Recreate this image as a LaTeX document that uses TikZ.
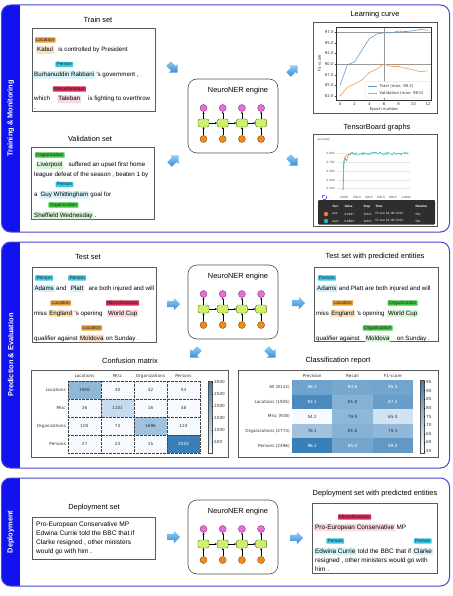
\documentclass[tikz,border=0pt]{standalone}
\usepackage{fontspec}
\setmainfont{Liberation Sans}
\newfontfamily\mplfont{DejaVu Sans}
\usetikzlibrary{positioning,shapes.arrows,arrows.meta}

\definecolor{bandblue}{HTML}{1212F0}
\definecolor{panelline}{HTML}{4646D2}
\definecolor{arrowtop}{HTML}{92CDF3}
\definecolor{arrowbot}{HTML}{3A8AD8}
\definecolor{hidpink}{HTML}{EE6ADC}
\definecolor{lstmgreen}{HTML}{CDF26A}
\definecolor{inporange}{HTML}{F28A1A}
\definecolor{locc}{HTML}{EC9A35}
\definecolor{perc}{HTML}{3EC6E2}
\definecolor{miscc}{HTML}{D42D55}
\definecolor{orgc}{HTML}{3FC63F}
\definecolor{hmlow}{HTML}{F7FBFF}
\definecolor{hmhigh}{HTML}{3A7FB8}
\definecolor{trainc}{HTML}{5E9BD0}
\definecolor{valc}{HTML}{F59A45}
\definecolor{tbteal}{HTML}{2FB3C2}
\definecolor{tborange}{HTML}{EE7A30}

\newcommand\fstitle{\fontsize{7.4}{8}\selectfont}
\newcommand\fsbody{\fontsize{6.2}{7}\selectfont}
\newcommand\fsdep{\fontsize{6.6}{9.2}\selectfont}
\newcommand\fsdepp{\fontsize{6.4}{7}\selectfont}
\newcommand\fstag{\fontsize{4.8}{5}\selectfont}
\newcommand\fsplot{\mplfont\fontsize{4.2}{5}\selectfont}
\newcommand\fstick{\mplfont\fontsize{3.9}{4.5}\selectfont}
\newcommand\fstb{\fontsize{3.1}{3.5}\selectfont}
\newcommand\fsband{\bfseries\fontsize{7.4}{8}\selectfont}

\begin{document}
\begin{tikzpicture}[x=1pt,y=-1pt]
	\tikzstyle{panel}=[draw=panelline, line width=1pt, rounded corners=9pt]
	\tikzstyle{band}=[fill=bandblue]
	\tikzstyle{bandlabel}=[text=white, font=\fsband, rotate=90]
	\tikzstyle{title}=[font=\fstitle, inner sep=0pt]
	\tikzstyle{box}=[draw=black!65, line width=0.6pt, fill=white]
	\tikzstyle{engine}=[draw=black!70, line width=0.6pt, rounded corners=9pt]
	\tikzstyle{bigarrow}=[single arrow, single arrow head extend=3pt, minimum height=13pt, inner xsep=0pt, inner ysep=3pt, top color=arrowtop, bottom color=arrowbot]
	\tikzstyle{hid}=[circle, fill=hidpink, draw=hidpink!55!black, line width=0.4pt, minimum size=7pt, inner sep=0pt]
	\tikzstyle{inp}=[circle, fill=inporange, draw=inporange!55!black, line width=0.4pt, minimum size=7pt, inner sep=0pt]
	\tikzstyle{lstm}=[rectangle, rounded corners=2pt, fill=lstmgreen, draw=lstmgreen!45!black, line width=0.4pt, minimum width=11pt, minimum height=8pt, inner sep=0pt]
	\tikzstyle{link}=[draw=black, line width=0.4pt, -{Stealth[length=2pt,width=2pt]}]
	\tikzstyle{wd}=[inner sep=0pt, anchor=base west, font=\fsbody]
	\tikzstyle{ent}=[wd, inner xsep=1pt, inner ysep=0.8pt, text height=4.7pt, text depth=1.3pt, rounded corners=1pt]
	\tikzstyle{tag}=[font=\fstag, inner xsep=1.3pt, inner ysep=0.5pt, text height=3.4pt, text depth=0.9pt, rounded corners=0.6pt, text=black!85]
	\tikzstyle{plottxt}=[font=\fsplot, inner sep=0.5pt, text=black!80]
	\tikzstyle{ticktxt}=[font=\fstick, inner sep=0.5pt, text=black!80]
	\tikzstyle{tbtxt}=[font=\fstb, inner sep=0.3pt, text=black!70]
	\tikzstyle{tbrow}=[font=\fstb, inner sep=0.3pt, text=white, anchor=west]
	\tikzstyle{cmcell}=[minimum width=33pt, minimum height=18pt, inner sep=0pt, font=\fsplot]
	\tikzstyle{crcell}=[minimum width=40.3pt, minimum height=14.6pt, inner sep=0pt, font=\fsplot]
	\tikzstyle{cmgrid}=[black!75, line width=0.35pt, densely dotted]
	\tikzstyle{gridl}=[black!40, line width=0.5pt]

	\useasboundingbox (0,0) rectangle (452,596);

	% three stages
	\foreach \ya/\yb/\lab [count=\ii] in {5/232/Training \& Monitoring, 242/468/Prediction \& Evaluation, 478/586/Deployment} {
		\begin{scope}
			\clip[rounded corners=9pt] (1.5,\ya) rectangle (449.5,\yb);
			\fill[band] (1.5,\ya) rectangle (20,\yb);
		\end{scope}
		\draw[panel] (1.5,\ya) rectangle (449.5,\yb);
		\node[bandlabel] (stage\ii) at (10.8,{(\ya+\yb)/2}) {\lab};
	}

	% NeuroNER engines
	\foreach \ey/\en in {79/eA, 265/eB, 500/eC} {
		\draw[engine] (188,\ey) rectangle (278,\ey+74);
		\node[title] (\en-t) at (238,\ey+12) {NeuroNER engine};
		\foreach \ii in {0,...,3} {
			\node[hid] (\en-h\ii) at (203.5+19.2*\ii,\ey+29) {};
			\node[lstm] (\en-l\ii) at (203.5+19.2*\ii,\ey+44) {};
			\node[inp] (\en-x\ii) at (203.5+19.2*\ii,\ey+60) {};
			\path[link] (\en-x\ii) -- (\en-l\ii);
			\path[link] (\en-l\ii) -- (\en-h\ii);
		}
		\foreach \ii/\jj in {0/1,1/2,2/3} \path[link] (\en-l\ii) -- (\en-l\jj);
	}

	% block arrows
	\node[bigarrow, rotate=-45] (arA1) at (172,67) {};
	\node[bigarrow, rotate=45] (arA2) at (173,161) {};
	\node[bigarrow, rotate=45] (arA3) at (292,71) {};
	\node[bigarrow, rotate=-45] (arA4) at (292,160) {};
	\node[bigarrow] (arB1) at (172,304) {};
	\node[bigarrow] (arB2) at (297,303) {};
	\node[bigarrow, rotate=-135] (arB3) at (196,352) {};
	\node[bigarrow, rotate=-45] (arB4) at (270,352) {};
	\node[bigarrow] (arC1) at (172,537) {};
	\node[bigarrow] (arC2) at (295,538) {};

	% train set
	\node[title] (ttrain) at (98,20) {Train set};
	\draw[box] (32,28) rectangle (155,111);
	\node[ent, fill=locc!28] (kab) at (36,52) {Kabul};
	\node[wd, base right=3.8pt of kab] (kab2) {is controlled by President};
	\node[tag, fill=locc, above=3.4pt of kab] (kabt) {Location};
	\node[ent, fill=perc!22] (bur) at (33,76.5) {Burhanuddin Rabbani};
	\node[wd, base right=0.8pt of bur] (bur2) {'s government ,};
	\node[tag, fill=perc, above=3.4pt of bur] (burt) {Person};
	\node[wd] (whi) at (34,101) {which};
	\node[ent, fill=miscc!18, base right=7pt of whi] (tal) {Taleban};
	\node[wd, base right=6.6pt of tal] (tal2) {is fighting to overthrow};
	\node[tag, fill=miscc, above=3.4pt of tal] (talt) {Miscellaneous};
	\node[wd] (dotA) at (34,109.5) {.};

	% validation set
	\node[title] (tval) at (90,139) {Validation set};
	\draw[box] (31,147) rectangle (154,219.5);
	\node[ent, fill=orgc!20] (liv) at (36,167) {Liverpool};
	\node[wd, base right=4.8pt of liv] (liv2) {suffered an upset first home};
	\node[tag, fill=orgc, above=3.4pt of liv] (livt) {Organization};
	\node[wd] (lea) at (34,176) {league defeat of the season , beaten 1 by};
	\node[wd] (aa) at (34,196.5) {a};
	\node[ent, fill=perc!22, base right=1.6pt of aa] (guy) {Guy Whittingham};
	\node[wd, base right=0.8pt of guy] (guy2) {goal for};
	\node[tag, fill=perc, above=3.4pt of guy] (guyt) {Person};
	\node[ent, fill=orgc!20] (she) at (33,217) {Sheffield Wednesday};
	\node[wd, base right=1pt of she] (she2) {.};
	\node[tag, fill=orgc, above=3.4pt of she] (shet) {Organization};

	% learning curve
	\node[title] (tlc) at (375,15) {Learning curve};
	\draw[box] (313,22) rectangle (437,113);
	\draw[gridl] (336,32) -- (431,32);
	\draw[gridl] (336,64) -- (431,64);
	\draw[gridl] (384,27) -- (384,100);
	\begin{scope}[shift={(340,448)}, xscale=7.333, yscale=-4.267]
		\draw[trainc, line width=0.6pt] plot coordinates {(0,85.0) (1,89.8) (2,90.5) (3,93.3) (4,95.9) (5,97.0) (6,97.3) (7,97.3) (8,97.7) (9,97.6) (10,97.8) (11,98.1) (12,97.9)};
		\draw[valc, line width=0.6pt] plot coordinates {(0,82.5) (1,84.5) (2,85.3) (3,86.3) (4,88.0) (5,88.8) (6,90.0) (7,89.4) (8,89.4) (9,89.0) (10,88.6) (11,88.2) (12,88.4)};
	\end{scope}
	\draw[black!80, line width=0.4pt] (336,27) rectangle (431,100);
	\foreach \val in {82.5,85.0,87.5,90.0,92.5,95.0,97.5} {
		\draw[black!80, line width=0.3pt] (334.5,{96-(\val-82.5)*4.267}) -- (336,{96-(\val-82.5)*4.267});
		\node[ticktxt, anchor=east] (ly\val) at (334.3,{96-(\val-82.5)*4.267}) {\val};
	}
	\foreach \val in {0,2,...,12} {
		\draw[black!80, line width=0.3pt] ({340+7.333*\val},100) -- ({340+7.333*\val},101.5);
		\node[ticktxt, anchor=north] (lx\val) at ({340+7.333*\val},101.6) {\val};
	}
	\node[ticktxt, rotate=90] (f1lab) at (319.5,63) {F1-score};
	\node[ticktxt] (eplab) at (384,109.5) {Epoch number};
	\draw[fill=white, draw=black!20, line width=0.3pt, rounded corners=1pt] (365,81.5) rectangle (430,98);
	\draw[trainc, line width=0.6pt] (368,86) -- (377,86);
	\node[ticktxt, anchor=west] (legtr) at (379,86) {Train (max: 98.2)};
	\draw[valc, line width=0.6pt] (368,93.5) -- (377,93.5);
	\node[ticktxt, anchor=west] (legva) at (379,93.5) {Validation (max: 98.0)};

	% tensorboard
	\node[title] (ttb) at (377,128) {TensorBoard graphs};
	\draw[box] (313,134) rectangle (437,226);
	\node[tbtxt, anchor=west] (tbacc) at (317,140) {accuracy};
	\foreach \lab/\yy [count=\ii] in {0.900/153, 0.700/162.2, 0.500/171.2, 0.300/180, 0.100/188.6} {
		\draw[black!10, line width=0.3pt] (337,\yy) -- (410,\yy);
		\node[tbtxt, anchor=east] (tby\ii) at (335,\yy) {\lab};
	}
	\foreach \lab/\xx [count=\ii] in {0.000/344, 200.0/357, 400.0/369, 600.0/381, 800.0/393, 1.000k/406}
		\node[tbtxt] (tbx\ii) at (\xx,197.5) {\lab};
	\pgfmathsetseed{12}
	\draw[tbteal, line width=0.45pt, line join=round] (343,190) -- (344,164) -- (345.5,158) -- (346.5,161) -- (348,156) \foreach \xx in {349,...,408} { -- (\xx,{153.6+1.7*rand}) };
	\draw[tborange, line width=0.6pt, line join=round] (343,190) -- (343.6,162) -- (345,157) -- (347,155) -- (350,154) -- (353,153.2);
	\draw[blue!60, line width=0.4pt, densely dashed] (322,195) rectangle (326.5,199.5);
	\fill[black!82, rounded corners=1pt] (318,200) rectangle (435,224.5);
	\foreach \lab/\xx [count=\ii] in {Run/332, Value/344, Step/363, Time/375, Relative/415}
		\node[tbrow, font=\fstb\bfseries] (tbh\ii) at (\xx,206.5) {\lab};
	\fill[tborange] (326,214) circle (2.2pt);
	\fill[tbteal] (326,221) circle (2.2pt);
	\foreach \lab/\xx [count=\ii] in {test/332, 0.9197/344, 120.0/363, {Fri Jun 24, 00:13:54}/375, 53s/415}
		\node[tbrow] (tbr\ii) at (\xx,214) {\lab};
	\foreach \lab/\xx [count=\ii] in {train/332, 0.8603/344, 120.0/363, {Fri Jun 24, 00:13:54}/375, 53s/415}
		\node[tbrow] (tbs\ii) at (\xx,221) {\lab};

	% test set
	\node[title] (ttest) at (88,257) {Test set};
	\draw[box] (32,267) rectangle (156,342);
	\node[ent, fill=perc!22] (ada) at (33.3,290) {Adams};
	\node[wd, base right=1pt of ada] (and) {and};
	\node[ent, fill=perc!22, base right=3pt of and] (pla) {Platt};
	\node[wd, base right=4pt of pla] (pla2) {are both injured and will};
	\node[tag, fill=perc, above=3.4pt of ada] (adat) {Person};
	\node[tag, fill=perc, above=3.4pt of pla] (plat) {Person};
	\node[wd] (mis) at (34,315) {miss};
	\node[ent, fill=locc!28, base right=1pt of mis] (eng) {England};
	\node[wd, base right=1pt of eng] (eng2) {'s opening};
	\node[ent, fill=miscc!18, base right=4pt of eng2] (wcu) {World Cup};
	\node[tag, fill=locc, above=3.4pt of eng] (engt) {Location};
	\node[tag, fill=miscc, above=3.4pt of wcu] (wcut) {Miscellaneous};
	\node[wd] (qua) at (34,340) {qualifier against};
	\node[ent, fill=locc!28, base right=1pt of qua] (mol) {Moldova};
	\node[wd, base right=1pt of mol] (mol2) {on Sunday .};
	\node[tag, fill=locc, above=3.4pt of mol] (molt) {Location};

	% test set with predicted entities
	\node[title] (tpred) at (375,257) {Test set with predicted entities};
	\draw[box] (314,267) rectangle (438,341);
	\node[ent, fill=perc!22] (pada) at (316,290) {Adams};
	\node[wd, base right=1pt of pada] (pada2) {and Platt are both injured and will};
	\node[tag, fill=perc, above=3.4pt of pada] (padat) {Person};
	\node[wd] (pmis) at (316,315) {miss};
	\node[ent, fill=locc!28, base right=1pt of pmis] (peng) {England};
	\node[wd, base right=1pt of peng] (peng2) {'s opening};
	\node[ent, fill=orgc!20, base right=2pt of peng2] (pwcu) {World Cup};
	\node[tag, fill=locc, above=3.4pt of peng] (pengt) {Location};
	\node[tag, fill=orgc, above=3.4pt of pwcu] (pwcut) {Organization};
	\node[wd] (pqua) at (316,340) {qualifier against};
	\node[ent, fill=orgc!20, base right=5pt of pqua] (pmol) {Moldova};
	\node[wd, base right=6pt of pmol] (pmol2) {on Sunday .};
	\node[tag, fill=orgc, above=3.4pt of pmol] (pmolt) {Organization};

	% confusion matrix
	\node[title] (tcm) at (130,361) {Confusion matrix};
	\draw[box] (31,370) rectangle (228,457);
	\foreach \lab [count=\ii from 0] in {Locations,Misc,Organizations,Persons} {
		\node[plottxt] (cmc\ii) at (84.5+33*\ii,376) {\lab};
		\node[plottxt, anchor=east] (cmr\ii) at (66.5,390+18*\ii) {\lab};
	}
	\foreach \val [count=\idx from 0] in {1946,30,42,54,26,1101,16,48,105,73,1696,124,27,23,15,3053} {
		\pgfmathtruncatemacro\row{int(\idx/4)}
		\pgfmathtruncatemacro\col{mod(\idx,4)}
		\pgfmathtruncatemacro\pct{100*(\val/3053)^1.3}
		\ifnum\val>2500 \colorlet{celltxt}{white}\else\colorlet{celltxt}{black!80}\fi
		\node[cmcell, fill=hmhigh!\pct!hmlow, text=celltxt] (cm\idx) at (84.5+33*\col,390+18*\row) {\val};
	}
	\foreach \ii in {0,...,4} {
		\draw[cmgrid] (68+33*\ii,381) -- (68+33*\ii,453);
		\draw[cmgrid] (68,381+18*\ii) -- (200,381+18*\ii);
	}
	\shade[bottom color=hmlow, top color=hmhigh] (208,381) rectangle (212,453);
	\draw[line width=0.3pt, black!70] (208,381) rectangle (212,453);
	\foreach \val in {500,1000,...,3000} {
		\draw[line width=0.3pt] (212,454-0.024*\val) -- (213.3,454-0.024*\val);
		\node[plottxt, anchor=west] (cb\val) at (213.5,454-0.024*\val) {\val};
	}

	% classification report
	\node[title] (tcr) at (338,361) {Classification report};
	\draw[box] (238,370) rectangle (438,457);
	\foreach \lab [count=\ii from 0] in {Precision,Recall,F1-score}
		\node[plottxt] (crc\ii) at (312.2+40.3*\ii,376) {\lab};
	\foreach \lab [count=\ii from 0] in {All (8112),Locations (1925),Misc (918),Organizations (2773),Persons (2496)}
		\node[plottxt, anchor=east] (crr\ii) at (290.5,387.3+14.6*\ii) {\lab};
	\foreach \val [count=\idx from 0] in {86.3,84.6,85.5,93.1,81.8,87.2,54.2,79.9,65.0,76.1,81.6,79.3,96.1,85.0,89.0} {
		\pgfmathtruncatemacro\row{int(\idx/3)}
		\pgfmathtruncatemacro\col{mod(\idx,3)}
		\pgfmathtruncatemacro\pct{100*((\val-54)/42)^1.2}
		\pgfmathtruncatemacro\hi{\val>83}
		\ifnum\hi=1 \colorlet{celltxt}{white}\else\colorlet{celltxt}{black!80}\fi
		\node[crcell, fill=hmhigh!\pct!hmlow, text=celltxt] (cr\idx) at (312.2+40.3*\col,387.3+14.6*\row) {\val};
	}
	\shade[bottom color=hmlow, top color=hmhigh] (420,380) rectangle (424,453);
	\draw[line width=0.3pt, black!70] (420,380) rectangle (424,453);
	\foreach \val in {55,60,...,95} {
		\draw[line width=0.3pt] (424,451-1.725*\val+94.875) -- (425.3,451-1.725*\val+94.875);
		\node[plottxt, anchor=west] (crb\val) at (425.5,451-1.725*\val+94.875) {\val};
	}

	% deployment set
	\node[title] (tdep) at (94,508) {Deployment set};
	\draw[box] (32,517) rectangle (155,559);
	\node[wd, font=\fsdep, anchor=north west, align=left] (dep) at (36,521.3) {Pro-European Conservative MP\\Edwina Currie told the BBC that if\\Clarke resigned , other ministers\\would go with him .};

	% deployment set with predicted entities
	\node[title] (tdpred) at (375,494) {Deployment set with predicted entities};
	\draw[box] (312,503) rectangle (437,573.5);
	\node[ent, font=\fsdepp, fill=miscc!18] (pro) at (314,529) {Pro-European Conservative};
	\node[wd, font=\fsdepp, base right=1pt of pro] (pro2) {MP};
	\node[tag, fill=miscc, above=3.4pt of pro] (prot) {Miscellaneous};
	\node[ent, font=\fsdepp, fill=perc!22] (edw) at (314,553) {Edwina Currie};
	\node[wd, font=\fsdepp, base right=1pt of edw] (edw2) {told the BBC that if};
	\node[ent, font=\fsdepp, fill=perc!22, base right=1pt of edw2] (cla) {Clarke};
	\node[tag, fill=perc, above=3.4pt of edw] (edwt) {Person};
	\node[tag, fill=perc, above=3.4pt of cla] (clat) {Person};
	\node[wd, font=\fsdepp] (res) at (315,562) {resigned , other ministers would go with};
	\node[wd, font=\fsdepp] (him) at (315,571) {him .};
\end{tikzpicture}
\end{document}
